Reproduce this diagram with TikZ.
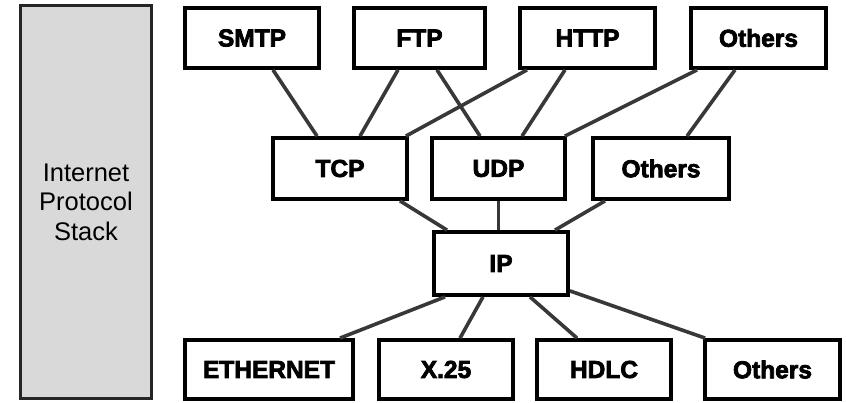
\documentclass[tikz,border=0pt]{standalone}
\usepackage{fontspec}
\setmainfont{Liberation Sans}
\newfontfamily\heavyfont[FakeBold=3]{Liberation Sans Bold}
\begin{document}
\begin{tikzpicture}[x=1pt,y=-1pt,
  proto/.style={draw=black, line width=3.8pt, fill=white, minimum height=60pt, inner sep=0pt,
    font=\heavyfont\fontsize{24.5}{26}\selectfont},
  link/.style={draw=black!78, line width=3.6pt},
  stackbox/.style={draw=black!85, line width=2.6pt, fill=black!15, minimum width=131pt, minimum height=393pt,
    inner sep=0pt, align=center, font=\fontsize{25.5}{29.5}\selectfont}]
\useasboundingbox (0,0) rectangle (846,403);
\node[stackbox] (stack) at (86,202) {Internet\\Protocol\\Stack};
% application row
\node[proto, minimum width=134pt] (smtp) at (252,38) {SMTP};
\node[proto, minimum width=131pt] (ftp) at (419.5,38) {FTP};
\node[proto, minimum width=135pt] (http) at (587.5,38) {HTTP};
\node[proto, minimum width=135pt] (otha) at (758.5,38) {Others};
% transport row
\node[proto, minimum width=134pt, minimum height=61pt] (tcp) at (340,168.5) {TCP};
\node[proto, minimum width=133pt, minimum height=61pt] (udp) at (498.5,168.5) {UDP};
\node[proto, minimum width=136pt, minimum height=61pt] (othb) at (661,168.5) {Others};
% network
\node[proto, minimum width=134pt, minimum height=63pt] (ip) at (501,263.5) {IP};
% link row
\node[proto, minimum width=168pt, minimum height=59pt] (eth) at (269,369.5) {ETHERNET};
\node[proto, minimum width=134pt, minimum height=59pt] (x25) at (446,369.5) {X.25};
\node[proto, minimum width=134pt, minimum height=59pt] (hdlc) at (604,369.5) {HDLC};
\node[proto, minimum width=135pt, minimum height=59pt] (othc) at (772.5,369.5) {Others};
% connectors
\draw[link] ([xshift=21]smtp.south) -- ([xshift=-23]tcp.north);
\draw[link] ([xshift=-21.5]ftp.south) -- ([xshift=20]tcp.north);
\draw[link] ([xshift=17.5]ftp.south) -- ([xshift=-18.5]udp.north);
\draw[link] ([xshift=-60.5]http.south) -- ([xshift=-3]tcp.north east);
\draw[link] ([xshift=-22.5]http.south) -- ([xshift=23.5]udp.north);
\draw[link] ([xshift=-61.5]otha.south) -- ([xshift=-2]udp.north east);
\draw[link] ([xshift=-23.5]otha.south) -- ([xshift=26]othb.north);
\draw[link] ([xshift=60]tcp.south) -- ([xshift=-54]ip.north);
\draw[link] (udp.south) -- (udp.south |- ip.north);
\draw[link] ([xshift=-56]othb.south) -- ([xshift=54]ip.north);
\draw[link] ([xshift=-56]ip.south) -- ([xshift=71]eth.north);
\draw[link] ([xshift=-18]ip.south) -- ([xshift=14]x25.north);
\draw[link] ([xshift=29]ip.south) -- ([xshift=-27]hdlc.north);
\draw[link] ([yshift=6]ip.south east) -- ([xshift=2]othc.north west);
\end{tikzpicture}
\end{document}
